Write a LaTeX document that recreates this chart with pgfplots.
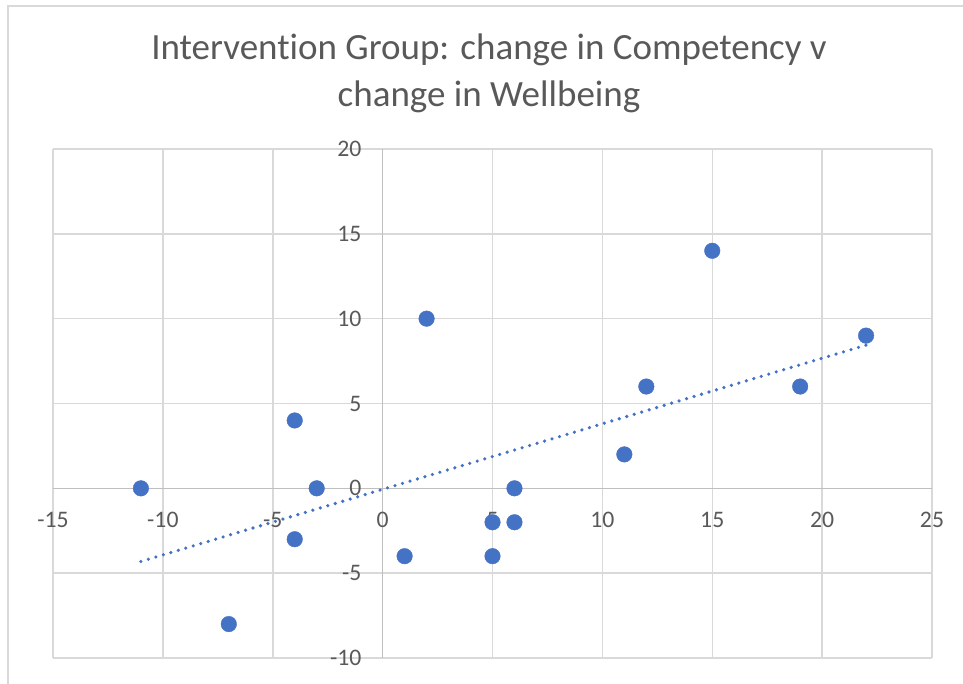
\documentclass[border=0pt]{standalone}
\usepackage{fontspec}
\setmainfont{Carlito}[Ligatures={NoCommon}]
\usepackage{pgfplots}
\pgfplotsset{compat=1.18}
\definecolor{dotblue}{HTML}{4472C4}
\definecolor{txtgray}{HTML}{595959}
\definecolor{gridgray}{HTML}{D9D9D9}
\definecolor{axgray}{HTML}{BFBFBF}
\begin{document}
\begin{tikzpicture}[x=1pt,y=1pt]
\useasboundingbox (0,0) rectangle (963,684);
\draw[gridgray, line width=2pt] (8,0) -- (8,678) -- (963,678);
\node[align=center, text=txtgray, font=\fontsize{37}{47}\selectfont] at (489,610.5) {Intervent\kern0pt ion Group: change in Competency v\\change in Wellbeing};
\begin{axis}[
  at={(53pt,26pt)}, anchor=south west, scale only axis,
  width=879pt, height=509pt,
  xmin=-15, xmax=25, ymin=-10, ymax=20,
  axis lines=middle,
  axis line style={-, draw=axgray, line width=1.5pt},
  xtick={-15,-10,...,25}, ytick={-10,-5,...,20},
  major tick length=0pt,
  grid=major, grid style={gridgray, line width=1.5pt},
  hide obscured x ticks=false, hide obscured y ticks=false,
  /pgf/number format/assume math mode=true,
  tick label style={font=\fontsize{23.7}{28}\selectfont, text=txtgray},
  xticklabel style={anchor=center, yshift=-32pt},
  yticklabel style={anchor=east, inner sep=0pt, xshift=-21pt},
  clip=false,
]
\addplot[only marks, mark=*, mark size=7.8pt, mark options={fill=dotblue, draw=dotblue}] table {
x y
-11 0
-7 -8
-4 4
-4 -3
-3 0
1 -4
2 10
5 -2
5 -4
6 0
6 -2
11 2
12 6
15 14
19 6
22 9
};
\addplot[dotblue, line width=3.6pt, line cap=round, dash pattern=on 0pt off 7.8pt] coordinates {(-11,-4.31) (22,8.44)};
\end{axis}
\end{tikzpicture}
\end{document}
